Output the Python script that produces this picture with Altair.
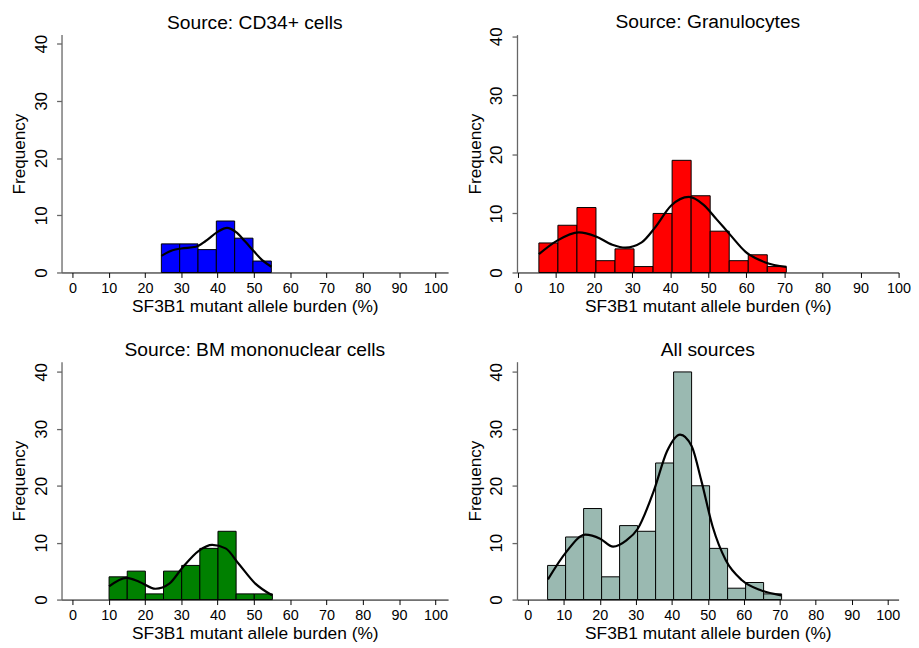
import altair as alt
import pandas as pd

# ---------------- data ----------------
x_ticks = [0, 10, 20, 30, 40, 50, 60, 70, 80, 90, 100]
y_ticks = [0, 10, 20, 30, 40]

# CD34+ cells
cd34_edges = [24.5, 29.55, 34.6, 39.65, 44.7, 49.75, 54.8]
cd34_counts = [5, 5, 4, 9, 6, 2]
cd34_curve_x = [24.5, 27.6, 30.0, 34.0, 36.7, 40.0, 42.6, 45.0, 47.6, 50.0, 52.2, 54.8]
cd34_curve_y = [2.9, 3.9, 4.2, 4.5, 5.5, 7.1, 7.8, 7.1, 5.4, 3.7, 2.2, 1.0]

# Granulocytes
gran_edges = [5.5, 10.5, 15.5, 20.5, 25.5, 30.5, 35.5, 40.5, 45.5, 50.5, 55.5, 60.5, 65.5, 70.5]
gran_counts = [5, 8, 11, 2, 4, 1, 10, 19, 13, 7, 2, 3, 1]
gran_curve_x = [5.5, 10.3, 16.0, 20.5, 24.8, 28.2, 32.5, 36.0, 40.2, 44.9, 48.7, 52.2, 55.6, 59.8, 65.0, 70.5]
gran_curve_y = [3.1, 5.4, 6.8, 6.1, 4.7, 4.2, 5.1, 7.6, 11.3, 12.8, 11.5, 9.0, 6.5, 3.5, 1.7, 0.95]

# BM mononuclear cells
bm_edges = [10.1, 15.1, 20.1, 25.1, 30.1, 35.1, 40.1, 45.1, 50.1, 55.1]
bm_counts = [4, 5, 1, 5, 6, 9, 12, 1, 1]
bm_curve_x = [10.1, 14.9, 18.5, 22.9, 26.7, 30.3, 34.9, 38.5, 42.2, 45.8, 50.4, 55.0]
bm_curve_y = [2.3, 3.8, 3.1, 1.9, 2.8, 5.6, 8.6, 9.6, 9.0, 6.3, 2.8, 0.75]

# All sources
all_edges = [5.5, 10.5, 15.5, 20.5, 25.5, 30.5, 35.5, 40.5, 45.5, 50.5, 55.5, 60.5, 65.5, 70.5]
all_counts = [6, 11, 16, 4, 13, 12, 24, 40, 20, 9, 2, 3, 1]
all_curve_x = [5.6, 10.6, 16.0, 20.1, 23.7, 27.4, 30.5, 35.0, 38.7, 42.3, 45.5, 48.2, 51.4, 55.0, 59.5, 64.9, 70.4]
all_curve_y = [3.55, 8.3, 11.4, 10.7, 9.3, 10.4, 12.4, 19.1, 26.1, 29.0, 27.0, 20.9, 12.7, 6.9, 3.4, 1.6, 0.75]

FONT = "Liberation Sans"
H = 240


def panel(title, edges, counts, color, cx, cy, xdom, ydom, toff, w):
    bars = pd.DataFrame({"x0": edges[:-1], "x1": edges[1:], "count": counts, "base": [0] * len(counts)})
    curve = pd.DataFrame({"x": cx, "y": cy})
    xs = alt.Scale(domain=xdom, nice=False, zero=False)
    ys = alt.Scale(domain=ydom, nice=False)
    xaxis = alt.Axis(values=x_ticks, title="SF3B1 mutant allele burden (%)")
    yaxis = alt.Axis(values=y_ticks, title="Frequency")
    b = alt.Chart(bars).mark_rect(color=color, stroke="black", strokeWidth=1).encode(
        x=alt.X("x0:Q", scale=xs, axis=xaxis),
        x2="x1:Q",
        y=alt.Y("count:Q", scale=ys, axis=yaxis),
        y2="base:Q",
    )
    l = alt.Chart(curve).mark_line(color="black", strokeWidth=2.2, interpolate="monotone").encode(
        x=alt.X("x:Q", scale=xs, axis=xaxis),
        y=alt.Y("y:Q", scale=ys, axis=yaxis),
    )
    return alt.layer(b, l).properties(
        width=w, height=H,
        title=alt.TitleParams(title, fontSize=19.4, fontWeight="normal", font=FONT, anchor="middle",
                              frame="group", offset=toff),
    )


tl = panel("Source: CD34+ cells", cd34_edges, cd34_counts, "#0000ff", cd34_curve_x, cd34_curve_y,
           [-3, 103.5], [0, 41.6], 1, 390)
tr = panel("Source: Granulocytes", gran_edges, gran_counts, "#ff0000", gran_curve_x, gran_curve_y,
           [-0.25, 100], [0, 40.3], -5, 385)
bl = panel("Source: BM mononuclear cells", bm_edges, bm_counts, "#008000", bm_curve_x, bm_curve_y,
           [-3, 103.5], [0, 41.8], 1, 390)
br = panel("All sources", all_edges, all_counts, "#9ab9b1", all_curve_x, all_curve_y,
           [-3, 103], [0, 41.8], 1, 385)

row1 = alt.hconcat(tl, tr, spacing=17.5)
row2 = alt.hconcat(bl, br, spacing=17.5)

chart = alt.vconcat(row1, row2, spacing=25).properties(
    background="white", padding={"left": 2, "top": 0, "right": 0, "bottom": 0}
).configure_view(
    stroke=None
).configure_axis(
    grid=False, labelFont=FONT, titleFont=FONT, labelColor="black", titleColor="black",
    titleFontWeight="normal", labelOverlap=False, labelFlush=False,
).configure_axisX(
    domainColor="black", tickColor="black", tickSize=5, domainWidth=1, tickWidth=1,
    labelFontSize=14.5, labelPadding=4, titleFontSize=17.5, titlePadding=3,
).configure_axisY(
    domainColor="#666666", tickColor="#666666", tickSize=5, domainWidth=1.3, tickWidth=1.3,
    labelAngle=270, labelFontSize=17, labelPadding=6.5, titleFontSize=17.3, titlePadding=3.5,
)

chart.save("out.html", embed_options={"renderer": "svg", "actions": False})
